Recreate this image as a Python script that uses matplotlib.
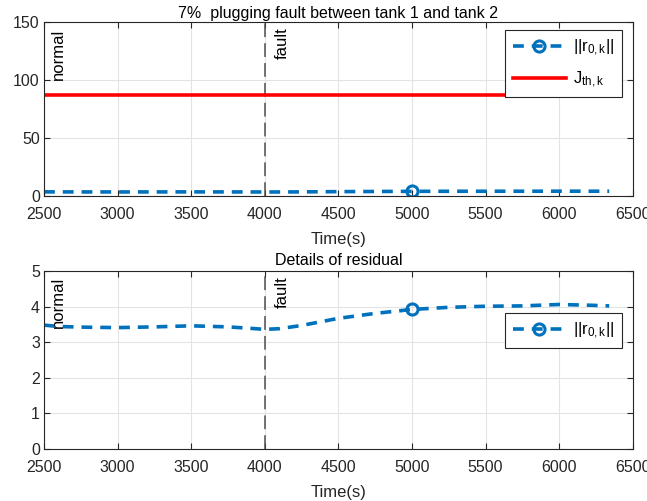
import matplotlib
matplotlib.use("Agg")
import matplotlib.pyplot as plt

plt.rcParams['font.family'] = ['Liberation Sans', 'DejaVu Sans']
plt.rcParams['mathtext.fontset'] = 'custom'
plt.rcParams['mathtext.rm'] = 'Liberation Sans'
plt.rcParams['mathtext.it'] = 'Liberation Sans'

# residual norm ||r_{0,k}||
time = [2500, 2600, 2800, 3000, 3250, 3500, 3750, 3900, 4000, 4100, 4250,
        4500, 4750, 5000, 5250, 5500, 5750, 6000, 6200, 6340]
resid = [3.48, 3.44, 3.42, 3.41, 3.43, 3.46, 3.43, 3.39, 3.36, 3.38, 3.47,
         3.67, 3.81, 3.92, 3.98, 4.01, 4.02, 4.06, 4.04, 4.02]
threshold = 87.3
fault_time = 4000
marker_idx = [time.index(5000)]

blue = '#0072BD'
axcol = '#262626'

fig = plt.figure(figsize=(6.47, 5.01), dpi=100)
ax1 = fig.add_axes([0.068, 0.609, 0.910, 0.347])
ax2 = fig.add_axes([0.068, 0.104, 0.910, 0.355])

def style(ax, ylim, yticks):
    ax.set_xlim(2500, 6500)
    ax.set_ylim(*ylim)
    ax.set_xticks(range(2500, 6501, 500))
    ax.set_yticks(yticks)
    ax.grid(True, color='#e3e3e3', linewidth=0.8)
    ax.set_axisbelow(True)
    ax.tick_params(direction='in', top=True, right=True, length=4,
                   color=axcol, labelcolor=axcol, labelsize=11.5, pad=3)
    ax.tick_params(axis='x', pad=8)
    for s in ax.spines.values():
        s.set_color(axcol)
        s.set_linewidth(0.8)
    ax.set_xlabel('Time(s)', fontsize=12, color=axcol, labelpad=7)
    ax.axvline(fault_time, color='#4d4d4d', linestyle=(0, (9, 4)), linewidth=1.1)

leg_kw = dict(loc='upper right', fontsize=12, handlelength=3.2, fancybox=False,
              edgecolor=axcol, framealpha=1, borderpad=0.45,
              handletextpad=0.4, borderaxespad=0)

# top panel
style(ax1, (0, 150), [0, 50, 100, 150])
ax1.plot(time, resid, color=blue, linestyle=(0, (3, 2.2)), linewidth=2.6,
         marker='o', markevery=marker_idx, markersize=8, markerfacecolor='none',
         markeredgewidth=2.2, label=r'$||\mathrm{r}_{0,k}||$')
ax1.plot([2500, 6320], [threshold, threshold], color='#ff0000', linewidth=2.6,
         label=r'$\mathrm{J}_{th,k}$')
ax1.text(2600, 100, 'normal', rotation=90, ha='center', va='bottom',
         fontsize=12, color='black')
ax1.text(4120, 118, 'fault', rotation=90, ha='center', va='bottom',
         fontsize=12, color='black')
ax1.set_title('7%  plugging fault between tank 1 and tank 2', fontsize=11.5,
              color='black', pad=3)
leg1 = ax1.legend(bbox_to_anchor=(0.981, 0.954), labelspacing=0.7, **leg_kw)
leg1.get_frame().set_linewidth(0.8)

# bottom panel
style(ax2, (0, 5), [0, 1, 2, 3, 4, 5])
ax2.plot(time, resid, color=blue, linestyle=(0, (3, 2.2)), linewidth=2.6,
         marker='o', markevery=marker_idx, markersize=8, markerfacecolor='none',
         markeredgewidth=2.2, label=r'$||\mathrm{r}_{0,k}||$')
ax2.text(2600, 3.4, 'normal', rotation=90, ha='center', va='bottom',
         fontsize=12, color='black')
ax2.text(4120, 3.95, 'fault', rotation=90, ha='center', va='bottom',
         fontsize=12, color='black')
ax2.set_title('Details of residual', fontsize=11.5, color='black', pad=4)
leg2 = ax2.legend(bbox_to_anchor=(0.981, 0.764), **leg_kw)
leg2.get_frame().set_linewidth(0.8)

fig.savefig('out.png', dpi=100)
